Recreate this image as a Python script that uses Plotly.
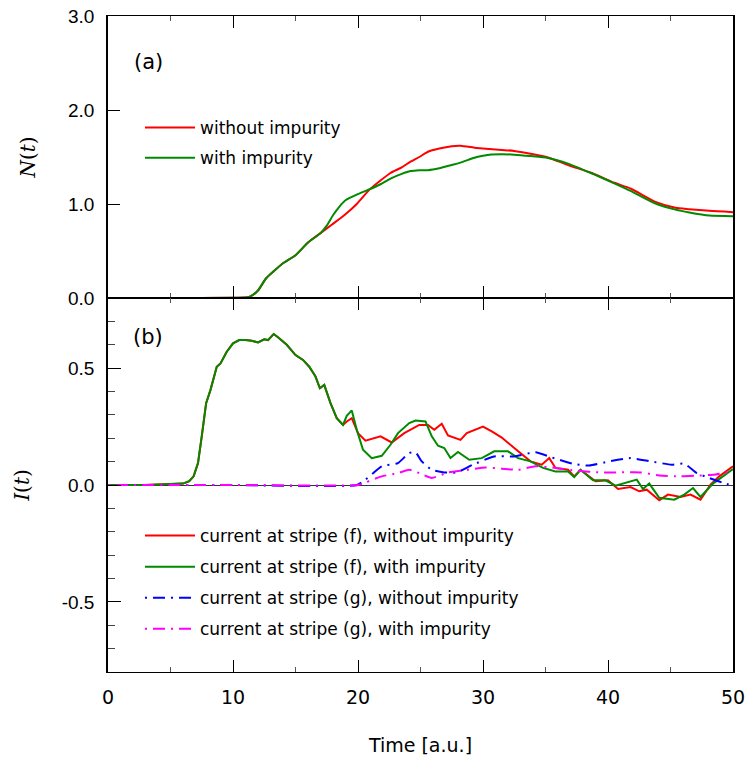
import plotly.graph_objects as go

# ---- panel (a): particle number N(t) ----
t_n_free = [0, 5, 10, 11.3, 12.0, 12.65, 13.3, 14.0, 15.0, 16.0, 17.0, 17.9, 18.9, 19.9,
            20.9, 21.8, 22.6, 23.5, 24.2, 24.9, 25.6, 26.5, 27.5, 28.2, 29.5, 30.5, 31.5,
            32.5, 33.8, 35.2, 36.8, 38.8, 40.5, 41.8, 43.8, 45.4, 46.5, 48.1, 50]
n_free = [0, 0, 0.003, 0.01, 0.08, 0.21, 0.29, 0.37, 0.455, 0.59, 0.69, 0.78, 0.88, 1.0,
          1.15, 1.25, 1.33, 1.39, 1.45, 1.50, 1.556, 1.59, 1.615, 1.62, 1.595, 1.585, 1.575,
          1.565, 1.535, 1.495, 1.414, 1.325, 1.226, 1.165, 1.023, 0.96, 0.945, 0.927, 0.913]

t_n_imp = [0, 5, 10, 11.3, 12.0, 12.65, 13.3, 14.0, 15.0, 16.0, 17.0, 17.5, 18.0, 18.5, 19.0,
           19.9, 20.9, 21.8, 22.6, 23.5, 24.2, 24.9, 25.6, 26.5, 27.5, 28.2, 29.5, 30.5,
           31.5, 32.5, 33.8, 35.2, 36.8, 38.8, 40.5, 41.8, 43.8, 45.4, 46.5, 48.1, 50]
n_imp = [0, 0, 0.003, 0.01, 0.08, 0.21, 0.29, 0.37, 0.455, 0.59, 0.69, 0.77, 0.88, 0.97, 1.04,
         1.10, 1.155, 1.21, 1.27, 1.32, 1.35, 1.36, 1.36, 1.38, 1.415, 1.44, 1.50, 1.525,
         1.53, 1.525, 1.51, 1.49, 1.43, 1.32, 1.22, 1.14, 1.005, 0.94, 0.91, 0.877, 0.87]

# ---- panel (b): currents I(t) ----
# shared part of stripe (f) current (identical with and without impurity)
t_f_common = [0, 3, 6.0, 6.5, 6.85, 7.2, 7.5, 7.85, 8.2, 8.7, 9.0, 9.5, 10.0, 10.5, 11.0,
              11.5, 12.0, 12.5, 12.8, 13.25, 13.6, 14.3, 15.0, 15.6, 16.1, 16.6, 16.95,
              17.3, 17.8, 18.3, 18.8]
i_f_common = [0, 0, 0.006, 0.016, 0.037, 0.094, 0.208, 0.35, 0.407, 0.506, 0.52, 0.57, 0.606,
              0.62, 0.62, 0.617, 0.61, 0.623, 0.62, 0.646, 0.632, 0.6, 0.556, 0.535, 0.506,
              0.464, 0.414, 0.428, 0.35, 0.286, 0.257]

t_f_free_tail = [19.1, 19.5, 20.0, 20.6, 21.8, 22.7, 23.7, 24.9, 25.6, 26.1, 26.7, 27.2, 28.2,
                 28.7, 30.0, 30.7, 31.5, 32.5, 33.8, 34.7, 35.3, 35.8, 36.8, 37.3, 37.8,
                 39.0, 40.0, 40.8, 41.8, 42.5, 43.1, 44.1, 44.8, 45.8, 46.6, 47.4, 48.2,
                 48.9, 50]
i_f_free_tail = [0.272, 0.286, 0.222, 0.19, 0.208, 0.182, 0.222, 0.257, 0.257, 0.236, 0.262,
                 0.212, 0.193, 0.222, 0.25, 0.229, 0.203, 0.158, 0.101, 0.087, 0.115, 0.073,
                 0.065, 0.037, 0.065, 0.016, 0.02, -0.017, -0.009, -0.027, -0.02, -0.065,
                 -0.041, -0.051, -0.041, -0.063, 0.001, 0.037, 0.08]

t_f_imp_tail = [19.1, 19.5, 19.9, 20.4, 21.1, 21.9, 22.6, 23.2, 24.1, 24.6, 25.4, 25.9, 26.4,
                26.9, 27.4, 28.0, 28.9, 29.9, 30.9, 32.0, 32.8, 33.8, 34.8, 35.8, 36.8, 37.3,
                37.8, 38.8, 39.8, 40.6, 41.5, 42.3, 42.8, 43.3, 44.1, 45.3, 46.1, 46.8, 47.4,
                48.4, 50]
i_f_imp_tail = [0.296, 0.319, 0.236, 0.151, 0.115, 0.125, 0.172, 0.222, 0.265, 0.276, 0.272,
                0.208, 0.168, 0.158, 0.115, 0.141, 0.108, 0.115, 0.144, 0.144, 0.115, 0.101,
                0.073, 0.058, 0.058, 0.034, 0.065, 0.02, 0.02, -0.003, 0.011, 0.023, -0.017,
                0.006, -0.055, -0.063, -0.041, -0.013, -0.051, 0.006, 0.068]

t_f_free = t_f_common + t_f_free_tail
i_f_free = i_f_common + i_f_free_tail
t_f_imp = t_f_common + t_f_imp_tail
i_f_imp = i_f_common + i_f_imp_tail

t_g_free = [0, 10, 19.9, 20.6, 21.9, 23.2, 24.1, 24.6, 25.1, 25.9, 26.9, 27.9, 29.2, 30.9,
            32.5, 34.2, 35.5, 37.2, 38.5, 40.1, 41.8, 43.4, 45.1, 46.1, 47.1, 48.1, 49.1, 50]
i_g_free = [0, 0, 0, 0.023, 0.08, 0.094, 0.137, 0.14, 0.101, 0.065, 0.054, 0.054, 0.087, 0.122,
            0.122, 0.14, 0.118, 0.091, 0.083, 0.101, 0.115, 0.101, 0.087, 0.091, 0.051, 0.03,
            0.011, -0.003]

t_g_imp = [0, 10, 20.0, 20.6, 21.9, 23.2, 24.1, 24.9, 25.9, 27.2, 28.5, 30.2, 31.5, 32.8,
           34.2, 35.8, 37.5, 39.4, 41.0, 42.6, 44.1, 45.8, 47.1, 48.4, 50]
i_g_imp = [0, 0, 0, 0.011, 0.037, 0.051, 0.065, 0.051, 0.03, 0.054, 0.063, 0.075, 0.07, 0.065,
           0.08, 0.073, 0.061, 0.054, 0.054, 0.054, 0.041, 0.037, 0.04, 0.044, 0.058]

RED = "#ff0000"
GREEN = "#008a00"
BLUE = "#0000ff"
MAGENTA = "#ff00ff"
DASHDOT = "2px,6px,12px,6px"

TEXT_FONT = "DejaVu Sans, sans-serif"
TICK_FONT = "Liberation Sans, Arial, sans-serif"
MATH_FONT = "DejaVu Serif, serif"

fig = go.Figure()

fig.add_trace(go.Scatter(x=t_n_free, y=n_free, mode="lines", name="without impurity",
                         line=dict(color=RED, width=2, shape="spline", smoothing=0.6),
                         xaxis="x", yaxis="y", legend="legend", legendgroup="a1"))
fig.add_trace(go.Scatter(x=t_n_imp, y=n_imp, mode="lines", name="with impurity",
                         line=dict(color=GREEN, width=2, shape="spline", smoothing=0.6),
                         xaxis="x", yaxis="y", legend="legend", legendgroup="a2"))

fig.add_trace(go.Scatter(x=t_f_free, y=i_f_free, mode="lines",
                         name="current at stripe (f), without impurity",
                         line=dict(color=RED, width=2),
                         xaxis="x2", yaxis="y2", legend="legend2", legendgroup="b1"))
fig.add_trace(go.Scatter(x=t_f_imp, y=i_f_imp, mode="lines",
                         name="current at stripe (f), with impurity",
                         line=dict(color=GREEN, width=2),
                         xaxis="x2", yaxis="y2", legend="legend2", legendgroup="b2"))
fig.add_trace(go.Scatter(x=t_g_free, y=i_g_free, mode="lines",
                         name="current at stripe (g), without impurity",
                         line=dict(color=BLUE, width=2, dash=DASHDOT, shape="spline", smoothing=0.5),
                         xaxis="x2", yaxis="y2", legend="legend2", legendgroup="b3"))
fig.add_trace(go.Scatter(x=t_g_imp, y=i_g_imp, mode="lines",
                         name="current at stripe (g), with impurity",
                         line=dict(color=MAGENTA, width=2, dash=DASHDOT, shape="spline", smoothing=0.5),
                         xaxis="x2", yaxis="y2", legend="legend2", legendgroup="b4"))

split = 1 - 282 / 656

x_common = dict(range=[0, 50], dtick=10, ticks="inside", ticklen=12, tickwidth=1,
                tickcolor="black", showline=True, linecolor="black", linewidth=1,
                mirror="ticks", showgrid=False, zeroline=False, automargin=False,
                minor=dict(dtick=5, ticks="inside", ticklen=5, tickcolor="#555", showgrid=False))

fig.update_layout(
    width=749, height=767,
    margin=dict(l=108, r=16, t=16, b=95, autoexpand=False),
    paper_bgcolor="white", plot_bgcolor="white",
    showlegend=True,
    xaxis=dict(**x_common, domain=[0, 1], anchor="y", showticklabels=False, matches="x2"),
    yaxis=dict(domain=[split, 1], anchor="x", range=[0, 3], dtick=1, tickformat=".1f",
               ticks="inside", ticklen=12, tickcolor="black", showline=True,
               linecolor="black", linewidth=1.5, mirror=True, showgrid=False,
               zeroline=False, ticklabelstandoff=8, automargin=False,
               tickfont=dict(family=TICK_FONT, size=19, color="black"),
               title=dict(text="<i>N</i>(<i>t</i>)", standoff=27,
                          font=dict(family=MATH_FONT, size=20, color="black"))),
    xaxis2=dict(**x_common, domain=[0, 1], anchor="y2", ticklabelstandoff=8,
                tickfont=dict(family=TEXT_FONT, size=19, color="black"),
                title=dict(text="Time [a.u.]", standoff=31,
                           font=dict(family=TEXT_FONT, size=19, color="black"))),
    yaxis2=dict(domain=[0, split], anchor="x2", range=[-0.8, 0.8],
                tickvals=[-0.5, 0, 0.5], ticktext=["-0.5", "0.0", "0.5"],
                ticks="inside", ticklen=13, tickcolor="black", showline=True,
                linecolor="black", linewidth=1.5, mirror=True, showgrid=False,
                zeroline=True, zerolinecolor="#333333", zerolinewidth=1,
                ticklabelstandoff=8, automargin=False,
                minor=dict(dtick=0.1, ticks="inside", ticklen=7, tickcolor="#444", showgrid=False),
                tickfont=dict(family=TICK_FONT, size=19, color="black"),
                title=dict(text="<i>I</i>(<i>t</i>)", standoff=27,
                           font=dict(family=MATH_FONT, size=20, color="black"))),
    legend=dict(x=(140 - 108) / 625, y=1 - (110 - 16) / 656, xanchor="left", yanchor="top",
                bgcolor="rgba(0,0,0,0)", borderwidth=0, itemwidth=50,
                traceorder="grouped", tracegroupgap=5,
                font=dict(family=TEXT_FONT, size=17, color="black")),
    legend2=dict(x=(140 - 108) / 625, y=1 - (518 - 16) / 656, xanchor="left", yanchor="top",
                 bgcolor="rgba(0,0,0,0)", borderwidth=0, itemwidth=50,
                 traceorder="grouped", tracegroupgap=6,
                 font=dict(family=TEXT_FONT, size=17, color="black")),
    annotations=[
        dict(text="(a)", x=3.2, y=2.51, xref="x", yref="y", showarrow=False,
             xanchor="center", yanchor="middle",
             font=dict(family=TEXT_FONT, size=21, color="black")),
        dict(text="(b)", x=3.2, y=0.635, xref="x2", yref="y2", showarrow=False,
             xanchor="center", yanchor="middle",
             font=dict(family=TEXT_FONT, size=21, color="black")),
    ],
)

fig.write_html("out.html")
